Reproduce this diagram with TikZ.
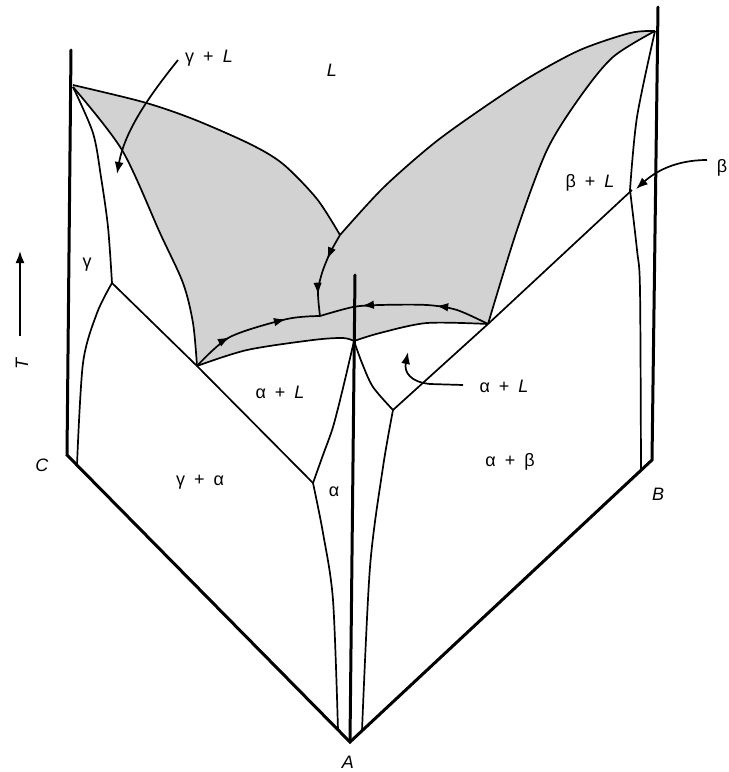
\documentclass[tikz,border=0pt]{standalone}
\usepackage{fontspec}
\setmainfont{Liberation Sans}
\usetikzlibrary{arrows.meta,decorations.markings}
\newcommand{\pl}{\hspace{0.5em}+\hspace{0.5em}}
\begin{document}
\begin{tikzpicture}[x=1pt,y=-1pt,
  thinline/.style={line width=1.7pt, line join=round},
  axisline/.style={line width=3pt, line cap=round},
  lbl/.style={font=\fontsize{18}{20}\selectfont, inner sep=0pt},
  pointer/.style={line width=1.7pt, -{Latex[length=12pt,width=9pt]}},
  valley/.style={thinline, postaction={decorate}, decoration={markings,
     mark=at position 0.32 with {\arrow{Latex[length=12pt,width=8.5pt]}},
     mark=at position 0.75 with {\arrow{Latex[length=12pt,width=8.5pt]}}}}]
\useasboundingbox (0,0) rectangle (729,772);

% liquidus surface shading
\fill[gray!35] plot[smooth] coordinates {(73,85) (143,102) (193,119) (250,144) (283,164) (317,199) (340,235)}
 -- plot[smooth] coordinates {(340,235) (383,188) (433,144) (480,110) (530,77) (580,50) (630,33) (655,31)}
 -- plot[smooth] coordinates {(655,31) (613,57) (580,97) (547,150) (517,230) (488,324)}
 -- plot[smooth] coordinates {(488,324) (427,323) (380,333) (354,341)}
 -- plot[smooth] coordinates {(354,341) (343,338) (313,340) (247,350) (197,366)}
 -- plot[smooth] coordinates {(197,366) (193,323) (183,283) (160,233) (122,150) (73,87)} -- cycle;

% liquidus boundaries
\draw[thinline] plot[smooth] coordinates {(73,85) (143,102) (193,119) (250,144) (283,164) (317,199) (340,235)};
\draw[thinline] plot[smooth] coordinates {(340,235) (383,188) (433,144) (480,110) (530,77) (580,50) (630,33) (655,31)};
\draw[thinline] plot[smooth] coordinates {(655,31) (613,57) (580,97) (547,150) (517,230) (488,324)};
\draw[thinline] plot[smooth] coordinates {(488,324) (427,323) (380,333) (354,341)};
\draw[thinline] plot[smooth] coordinates {(354,341) (343,338) (313,340) (247,350) (197,366)};
\draw[thinline] plot[smooth] coordinates {(197,366) (193,323) (183,283) (160,233) (122,150) (73,87)};

% eutectic valleys
\draw[valley] plot[smooth] coordinates {(197,366) (230,337) (287,319) (320,316)};
\draw[valley] plot[smooth] coordinates {(488,324) (457,310) (427,305) (380,305) (353,307) (320,316)};
\draw[valley] plot[smooth] coordinates {(340,235) (330,253) (322,273) (318,292) (320,316)};

% gamma side
\draw[thinline] plot[smooth] coordinates {(73,87) (93,133) (101,177) (108,227) (112,283)};
\draw[thinline] plot[smooth] coordinates {(112,283) (97,313) (83,363) (77,465)};
\draw[thinline] (112,283) -- (197,366) -- (313,483);

% alpha side
\draw[thinline] plot[smooth] coordinates {(313,483) (323,455) (333,427) (343,388) (354,341)};
\draw[thinline] plot[smooth] coordinates {(313,483) (323,533) (333,600) (338,730)};
\draw[thinline] plot[smooth] coordinates {(354,341) (362,363) (373,387) (393,410)};
\draw[thinline] plot[smooth] coordinates {(393,410) (383,467) (370,567) (362,731)};
\draw[thinline] (393,410) -- (488,324) -- (632,190);

% beta side
\draw[thinline] plot[smooth] coordinates {(655,31) (637,117) (630,190)};
\draw[thinline] plot[smooth] coordinates {(630,190) (637,250) (640,290) (641,470)};

% axes and base
\coordinate (C) at (67,455);
\coordinate (A) at (350,742);
\coordinate (B) at (652,460);
\draw[axisline] (71,50) -- (C) -- (A) -- (B) -- (658,7);
\draw[axisline] (A) -- (355,275);

% labels
\node[lbl] (lL) at (332,70) {\textit{L}};
\node[lbl] (lgL) at (209,58) {γ\pl\textit{L}};
\node[lbl] (lbL) at (590,183) {β\pl\textit{L}};
\node[lbl] (lb) at (722,168) {β};
\node[lbl] (lg) at (87,265) {γ};
\node[lbl] (laL) at (280,392) {α\pl\textit{L}};
\node[lbl] (laL2) at (504,386) {α\pl\textit{L}};
\node[lbl] (lga) at (200,482) {γ\pl α};
\node[lbl] (la) at (334,492) {α};
\node[lbl] (lab) at (510,462) {α\pl β};
\node[lbl] (lC) at (42,465) {\textit{C}};
\node[lbl] (lA) at (348,762) {\textit{A}};
\node[lbl] (lB) at (658,494) {\textit{B}};
\node[lbl, rotate=90] (lT) at (22,363) {\textit{T}};

% pointer arrows
\draw[pointer] (178,60) .. controls (150,95) and (125,130) .. (117,174);
\draw[pointer] (707,160) .. controls (675,160) and (655,172) .. (636,189);
\draw[pointer] (463,385) -- (430,384) .. controls (410,382) and (404,372) .. (408,352);
\draw[pointer] (20,336) -- (20,251);
\end{tikzpicture}
\end{document}
